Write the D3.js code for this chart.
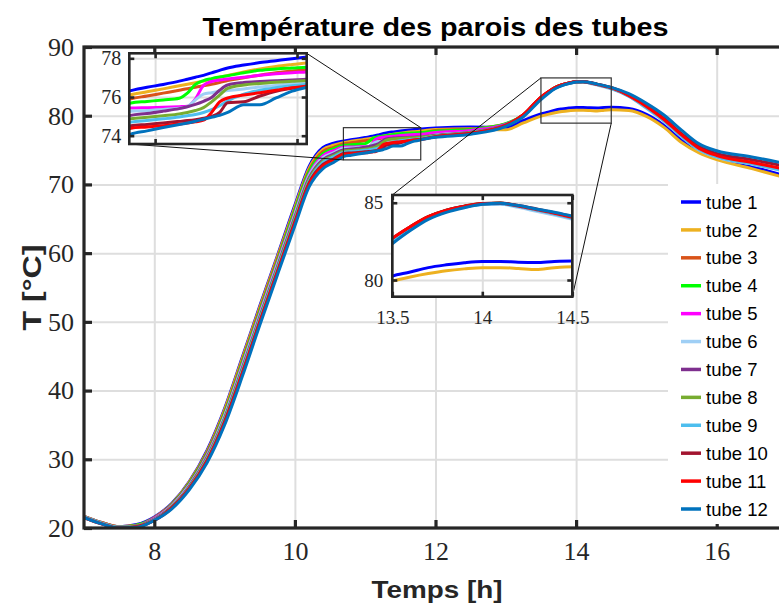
<!DOCTYPE html>
<html>
<head>
<meta charset="utf-8">
<script src="https://cdnjs.cloudflare.com/ajax/libs/d3/7.8.5/d3.min.js"></script>
<style>
  body { margin: 0; background: #fff; }
  svg { display: block; }
</style>
</head>
<body>
<svg id="chart" width="779" height="606"></svg>
<script>
// figure size, the axes run on past the right edge (the original is cropped)
const width = 779;
const height = 606;

// time axis shared by all tubes [h]
const hours = [7.0, 7.25, 7.5, 7.75, 8.0, 8.25, 8.5, 8.75, 9.0, 9.25, 9.5, 9.75, 10.0, 10.2, 10.4, 10.55,
  10.7, 10.8, 10.9, 11.0, 11.05, 11.1, 11.15, 11.2, 11.25, 11.3, 11.4, 11.5, 11.6, 11.7, 11.8,
  12.0, 12.5, 13.0, 13.25,
  13.5, 13.6, 13.7, 13.8, 13.9, 14.0, 14.1, 14.2, 14.3, 14.4, 14.5,
  14.75, 15.0, 15.25, 15.5, 15.75, 16.0, 16.5, 17.0];

// wall temperature of each tube [°C]
const tube1 = [21.7, 20.8, 20.2, 20.5, 21.6, 23.6, 26.8, 31.3, 37.4, 44.8, 52.3, 59.6, 67.0, 72.6, 75.4, 76.0,
  76.33, 76.5, 76.65, 76.82, 76.92, 77.02, 77.12, 77.25, 77.38, 77.5, 77.65, 77.78, 77.88, 77.98, 78.07,
  78.2, 78.35, 78.3, 79.3,
  80.26, 80.52, 80.8, 80.98, 81.12, 81.2, 81.2, 81.15, 81.13, 81.2, 81.23,
  81.05, 80.2, 78.6, 76.4, 74.9, 73.9, 72.6, 71.2];
const tube2 = [21.7, 20.8, 20.2, 20.4, 21.5, 23.5, 26.7, 31.1, 37.2, 44.6, 52.1, 59.4, 66.7, 72.3, 75.1, 75.7,
  76.12, 76.27, 76.42, 76.58, 76.66, 76.74, 76.82, 76.92, 77.02, 77.12, 77.3, 77.45, 77.58, 77.68, 77.77,
  78.0, 78.1, 77.95, 78.95,
  79.94, 80.2, 80.42, 80.6, 80.72, 80.8, 80.8, 80.75, 80.68, 80.8, 80.86,
  80.75, 79.9, 78.3, 76.1, 74.6, 73.6, 72.3, 70.9];
const tube3 = [21.7, 20.8, 20.2, 20.4, 21.5, 23.5, 26.6, 31.0, 36.9, 44.3, 51.8, 59.1, 66.4, 72.0, 74.8, 75.4,
  75.91, 76.05, 76.2, 76.35, 76.43, 76.5, 76.58, 76.66, 76.75, 76.85, 77.0, 77.13, 77.25, 77.35, 77.42,
  77.85, 78.05, 78.8, 80.1,
  82.65, 83.45, 84.1, 84.52, 84.78, 84.95, 84.97, 84.8, 84.56, 84.32, 84.05,
  82.95, 81.3, 79.4, 77.15, 75.2, 74.15, 73.15, 72.1];
const tube4 = [21.6, 20.7, 20.1, 20.4, 21.4, 23.4, 26.5, 30.8, 36.7, 44.0, 51.5, 58.8, 66.2, 71.8, 74.5, 75.2,
  75.69, 75.77, 75.85, 75.94, 76.2, 76.65, 76.85, 76.95, 77.03, 77.1, 77.25, 77.38, 77.45, 77.5, 77.55,
  77.75, 78.0, 78.85, 80.1,
  82.6, 83.4, 84.08, 84.5, 84.76, 84.93, 84.96, 84.78, 84.55, 84.3, 84.03,
  82.9, 81.25, 79.35, 77.1, 75.15, 74.1, 73.1, 72.0];
const tube5 = [21.6, 20.7, 20.1, 20.3, 21.4, 23.3, 26.3, 30.6, 36.4, 43.7, 51.2, 58.5, 65.8, 71.4, 74.2, 74.9,
  75.43, 75.45, 75.47, 75.5, 75.52, 75.9, 76.6, 76.8, 76.88, 76.93, 77.02, 77.12, 77.2, 77.26, 77.3,
  77.55, 77.85, 78.75, 80.05,
  82.6, 83.4, 84.05, 84.48, 84.75, 84.92, 84.95, 84.77, 84.53, 84.28, 84.0,
  82.88, 81.2, 79.3, 77.05, 75.1, 74.05, 73.05, 71.95];
const tube6 = [21.6, 20.7, 20.1, 20.3, 21.3, 23.2, 26.2, 30.4, 36.3, 43.5, 51.0, 58.3, 65.6, 71.2, 73.9, 74.6,
  75.26, 75.3, 75.36, 75.42, 75.5, 75.85, 76.15, 76.22, 76.28, 76.33, 76.42, 76.52, 76.6, 76.7, 76.77,
  77.2, 77.6, 78.6, 79.95,
  82.5, 83.3, 84.0, 84.42, 84.7, 84.88, 84.9, 84.7, 84.45, 84.2, 83.92,
  82.8, 81.1, 79.2, 76.95, 75.0, 73.95, 72.95, 71.85];
const tube7 = [21.6, 20.7, 20.1, 20.3, 21.3, 23.1, 26.1, 30.3, 36.0, 43.2, 50.7, 58.0, 65.3, 70.9, 73.6, 74.4,
  75.05, 75.15, 75.27, 75.4, 75.5, 75.62, 75.78, 75.98, 76.35, 76.62, 76.75, 76.8, 76.84, 76.88, 76.92,
  77.15, 77.6, 78.65, 80.05,
  82.55, 83.35, 84.03, 84.46, 84.74, 84.92, 84.95, 84.78, 84.55, 84.3, 84.02,
  82.9, 81.25, 79.35, 77.1, 75.15, 74.1, 73.1, 72.0];
const tube8 = [21.6, 20.7, 20.1, 20.3, 21.2, 23.1, 26.0, 30.2, 35.9, 43.0, 50.5, 57.8, 65.1, 70.7, 73.4, 74.2,
  74.88, 74.95, 75.03, 75.12, 75.2, 75.3, 75.45, 75.75, 76.1, 76.45, 76.62, 76.7, 76.76, 76.81, 76.86,
  77.1, 77.55, 78.6, 80.05,
  82.55, 83.35, 84.03, 84.46, 84.74, 84.92, 84.96, 84.79, 84.56, 84.32, 84.04,
  82.92, 81.3, 79.4, 77.15, 75.2, 74.15, 73.15, 72.05];
const tube9 = [21.6, 20.7, 20.1, 20.2, 21.2, 23.0, 25.9, 30.0, 35.7, 42.8, 50.3, 57.6, 64.8, 70.4, 73.2, 74.0,
  74.70, 74.78, 74.87, 74.97, 75.03, 75.1, 75.2, 75.35, 75.55, 75.8, 76.15, 76.35, 76.48, 76.58, 76.67,
  77.0, 77.5, 78.55, 80.0,
  82.5, 83.3, 84.0, 84.43, 84.72, 84.9, 84.93, 84.75, 84.52, 84.27, 83.98,
  82.85, 81.15, 79.25, 77.0, 75.05, 74.0, 73.0, 71.9];
const tube10 = [21.5, 20.6, 20.0, 20.2, 21.1, 23.0, 25.8, 29.8, 35.5, 42.5, 50.0, 57.3, 64.6, 70.2, 72.9, 73.7,
  74.51, 74.58, 74.66, 74.74, 74.78, 74.83, 74.9, 75.0, 75.2, 75.7, 75.75, 76.05, 76.3, 76.45, 76.55,
  76.95, 77.45, 78.6, 80.15,
  82.7, 83.45, 84.1, 84.52, 84.78, 84.95, 84.98, 84.82, 84.6, 84.36, 84.1,
  83.05, 81.5, 79.6, 77.4, 75.5, 74.5, 73.6, 72.6];
const tube11 = [21.5, 20.6, 20.0, 20.2, 21.1, 22.9, 25.8, 29.8, 35.3, 42.4, 49.9, 57.2, 64.4, 70.0, 72.7, 73.6,
  74.39, 74.45, 74.52, 74.6, 74.65, 74.72, 74.8, 75.2, 75.75, 75.95, 76.1, 76.22, 76.35, 76.48, 76.58,
  76.95, 77.45, 78.6, 80.15,
  82.7, 83.45, 84.1, 84.5, 84.76, 84.93, 84.96, 84.79, 84.56, 84.32, 84.05,
  82.93, 81.35, 79.45, 77.2, 75.25, 74.2, 73.2, 72.15];
const tube12 = [21.5, 20.6, 20.0, 20.1, 21.1, 22.8, 25.6, 29.5, 35.0, 42.0, 49.5, 56.8, 64.0, 69.6, 72.3, 73.2,
  74.08, 74.25, 74.42, 74.58, 74.66, 74.75, 74.85, 74.95, 75.05, 75.2, 75.6, 75.6, 75.95, 76.3, 76.52,
  76.85, 77.3, 78.45, 79.85,
  82.35, 83.2, 83.92, 84.38, 84.68, 84.9, 84.96, 84.82, 84.6, 84.38, 84.12,
  83.2, 81.8, 80.1, 77.9, 75.9, 74.9, 74.0, 73.0];

const tubes = [tube1, tube2, tube3, tube4, tube5, tube6, tube7, tube8, tube9, tube10, tube11, tube12];
const tubeNames = ['tube 1', 'tube 2', 'tube 3', 'tube 4', 'tube 5', 'tube 6',
  'tube 7', 'tube 8', 'tube 9', 'tube 10', 'tube 11', 'tube 12'];
const tubeColors = ['#0000ff', '#edb120', '#d95319', '#00ff00', '#ff00ff', '#9fcff5',
  '#7e2f8e', '#77ac30', '#4dbeee', '#a2142f', '#ff0000', '#0072bd'];

// ticks
const xTicks = [8, 10, 12, 14, 16];
const yTicks = [20, 30, 40, 50, 60, 70, 80, 90];
const zoomAXTicks = [10.85, 11.73];
const zoomAYTicks = [74, 76, 78];
const zoomBXTicks = [13.5, 14, 14.5];
const zoomBYTicks = [80, 85];

// axis limits
const mainXDomain = [7, 17];
const mainYDomain = [20, 90];
const zoomAXDomain = [10.69, 11.79];
const zoomAYDomain = [73.57, 78.26];
const zoomBXDomain = [13.5, 14.5];
const zoomBYDomain = [78.92, 85.5];

const axisColor = '#262626';
const gridColor = '#dedede';
const serif = "'Liberation Serif', 'Times New Roman', serif";
const sans = "'Liberation Sans', Arial, Helvetica, sans-serif";

const svg = d3.select('#chart');

// panel boxes in pixels
const mainBox = {left: 84, right: 787, top: 47, bottom: 528};
const zoomABox = {left: 129.3, right: 306.7, top: 53.3, bottom: 144};
const zoomBBox = {left: 392.3, right: 572.3, top: 195, bottom: 296.7};

const main = drawPanel('main', mainBox, mainXDomain, mainYDomain, {
  xTicks: xTicks, yTicks: yTicks, xLabels: true, yLabels: true,
  fontSize: 26, tickLen: 8, boxWidth: 3.2, lineWidth: 3, xPad: 14, yPad: 10
});

drawZoomMarks(main, zoomAXDomain, zoomAYDomain, zoomABox, 'A');
drawZoomMarks(main, zoomBXDomain, zoomBYDomain, zoomBBox, 'B');

drawPanel('zoomA', zoomABox, zoomAXDomain, zoomAYDomain, {
  xTicks: zoomAXTicks, yTicks: zoomAYTicks, xLabels: false, yLabels: true,
  fontSize: 20, tickLen: 5, boxWidth: 2.6, lineWidth: 3, xPad: 10, yPad: 8, background: true
});

drawPanel('zoomB', zoomBBox, zoomBXDomain, zoomBYDomain, {
  xTicks: zoomBXTicks, yTicks: zoomBYTicks, xLabels: true, yLabels: true,
  fontSize: 19, tickLen: 5, boxWidth: 2.6, lineWidth: 3, xPad: 14, yPad: 9, background: true
});

drawLegend();
drawTitles();

/*
 * one set of axes: grid, clipped curves, frame and inward ticks
 */
function drawPanel(id, box, xDomain, yDomain, opts) {
  const sx = d3.scaleLinear().domain(xDomain).range([box.left, box.right]);
  const sy = d3.scaleLinear().domain(yDomain).range([box.bottom, box.top]);
  const w = box.right - box.left;
  const h = box.bottom - box.top;

  const g = svg.append('g').attr('id', id);

  if (opts.background) {
    g.append('rect')
     .attr('x', box.left).attr('y', box.top)
     .attr('width', w).attr('height', h)
     .attr('fill', '#fff');
  }

  // grid lines
  g.append('g')
   .attr('transform', translate(0, box.bottom))
   .call(d3.axisBottom(sx).tickValues(opts.xTicks).tickSize(-h).tickFormat(''))
   .call(a => a.select('.domain').remove())
   .selectAll('line')
   .attr('stroke', gridColor).attr('stroke-width', 2);

  g.append('g')
   .attr('transform', translate(box.left, 0))
   .call(d3.axisLeft(sy).tickValues(opts.yTicks).tickSize(-w).tickFormat(''))
   .call(a => a.select('.domain').remove())
   .selectAll('line')
   .attr('stroke', gridColor).attr('stroke-width', 2);

  // curves
  g.append('clipPath').attr('id', 'clip-' + id)
   .append('rect')
   .attr('x', box.left).attr('y', box.top)
   .attr('width', w).attr('height', h);

  const line = d3.line()
                 .x((d, i) => sx(hours[i]))
                 .y(d => sy(d))
                 .curve(d3.curveMonotoneX);

  g.append('g')
   .attr('clip-path', 'url(#clip-' + id + ')')
   .selectAll('path')
   .data(tubes)
   .join('path')
   .attr('d', line)
   .attr('fill', 'none')
   .attr('stroke', (d, i) => tubeColors[i])
   .attr('stroke-width', opts.lineWidth)
   .attr('stroke-linejoin', 'round');

  // frame
  g.append('rect')
   .attr('x', box.left).attr('y', box.top)
   .attr('width', w).attr('height', h)
   .attr('fill', 'none')
   .attr('stroke', axisColor)
   .attr('stroke-width', opts.boxWidth);

  // inward ticks on all four sides
  const fmt = d => String(d);
  const sides = [
    {axis: d3.axisBottom(sx).tickValues(opts.xTicks), at: translate(0, box.bottom),
     labels: opts.xLabels, pad: opts.xPad},
    {axis: d3.axisTop(sx).tickValues(opts.xTicks), at: translate(0, box.top), labels: false, pad: 0},
    {axis: d3.axisLeft(sy).tickValues(opts.yTicks), at: translate(box.left, 0),
     labels: opts.yLabels, pad: opts.yPad},
    {axis: d3.axisRight(sy).tickValues(opts.yTicks), at: translate(box.right, 0), labels: false, pad: 0}
  ];

  sides.forEach(s => {
    s.axis.tickSizeInner(-opts.tickLen)
          .tickSizeOuter(0)
          .tickPadding(s.pad)
          .tickFormat(s.labels ? fmt : '');
    const a = g.append('g').attr('transform', s.at).call(s.axis);
    a.select('.domain').remove();
    a.selectAll('line').attr('stroke', axisColor).attr('stroke-width', opts.boxWidth);
    a.selectAll('text')
     .attr('fill', axisColor)
     .style('font-family', serif)
     .style('font-size', opts.fontSize + 'px');
  });

  return {sx: sx, sy: sy};
}

/*
 * rectangle on the main axes and the two lines leading to the zoom panel
 */
function drawZoomMarks(main, xDomain, yDomain, box, which) {
  const x0 = main.sx(xDomain[0]);
  const x1 = main.sx(xDomain[1]);
  const y0 = main.sy(yDomain[1]);
  const y1 = main.sy(yDomain[0]);

  const g = svg.append('g').attr('id', 'zoom-marks-' + which);

  g.append('rect')
   .attr('x', x0).attr('y', y0)
   .attr('width', x1 - x0).attr('height', y1 - y0)
   .attr('fill', 'none')
   .attr('stroke', '#333')
   .attr('stroke-width', 1.2);

  let links;
  if (which === 'A') {
    links = [[box.left, box.bottom, x0, y1], [box.right, box.top, x1, y0]];
  } else {
    links = [[box.left, box.top, x0, y0], [box.right, box.bottom, x1, y1]];
  }

  g.selectAll('line')
   .data(links)
   .join('line')
   .attr('x1', d => d[0]).attr('y1', d => d[1])
   .attr('x2', d => d[2]).attr('y2', d => d[3])
   .attr('stroke', '#111')
   .attr('stroke-width', 1);
}

function drawLegend() {
  const group = svg.append('g').attr('id', 'legend');

  group.append('rect')
       .attr('x', 668).attr('y', 184)
       .attr('width', 130).attr('height', 340)
       .attr('fill', '#fff');

  const rowY = d3.scalePoint().domain(tubeNames).range([202, 509]);

  const rows = group.selectAll('g.item')
                    .data(tubeNames)
                    .join('g')
                    .attr('class', 'item')
                    .attr('transform', d => translate(0, rowY(d)));

  rows.append('line')
      .attr('x1', 681).attr('x2', 701)
      .attr('stroke', (d, i) => tubeColors[i])
      .attr('stroke-width', 3.5);

  rows.append('text')
      .attr('x', 706)
      .attr('dy', '0.36em')
      .style('font-family', sans)
      .style('font-size', '18.5px')
      .attr('fill', '#000')
      .text(d => d);
}

function drawTitles() {
  svg.append('text')
     .attr('x', 435.5).attr('y', 36)
     .attr('text-anchor', 'middle')
     .attr('textLength', 466)
     .attr('lengthAdjust', 'spacingAndGlyphs')
     .style('font-family', sans)
     .style('font-weight', 'bold')
     .style('font-size', '25px')
     .text('Température des parois des tubes');

  svg.append('text')
     .attr('x', 437).attr('y', 598)
     .attr('text-anchor', 'middle')
     .attr('textLength', 131)
     .attr('lengthAdjust', 'spacingAndGlyphs')
     .attr('fill', axisColor)
     .style('font-family', sans)
     .style('font-weight', 'bold')
     .style('font-size', '24px')
     .text('Temps [h]');

  const yGroup = svg.append('g').attr('transform', translate(41, midpoint([mainBox.top, mainBox.bottom])));
  yGroup.append('text')
        .attr('x', 0).attr('y', 0)
        .attr('text-anchor', 'middle')
        .attr('transform', 'rotate(-90)')
        .attr('textLength', 86)
        .attr('lengthAdjust', 'spacingAndGlyphs')
        .attr('fill', axisColor)
        .style('font-family', sans)
        .style('font-weight', 'bold')
        .style('font-size', '25px')
        .text('T [°C]');
}

function midpoint(range) {
  return range[0] + (range[1] - range[0]) / 2.0;
}

function translate(x, y) {
  return 'translate(' + String(x) + ',' + String(y) + ')';
}
</script>
</body>
</html>
